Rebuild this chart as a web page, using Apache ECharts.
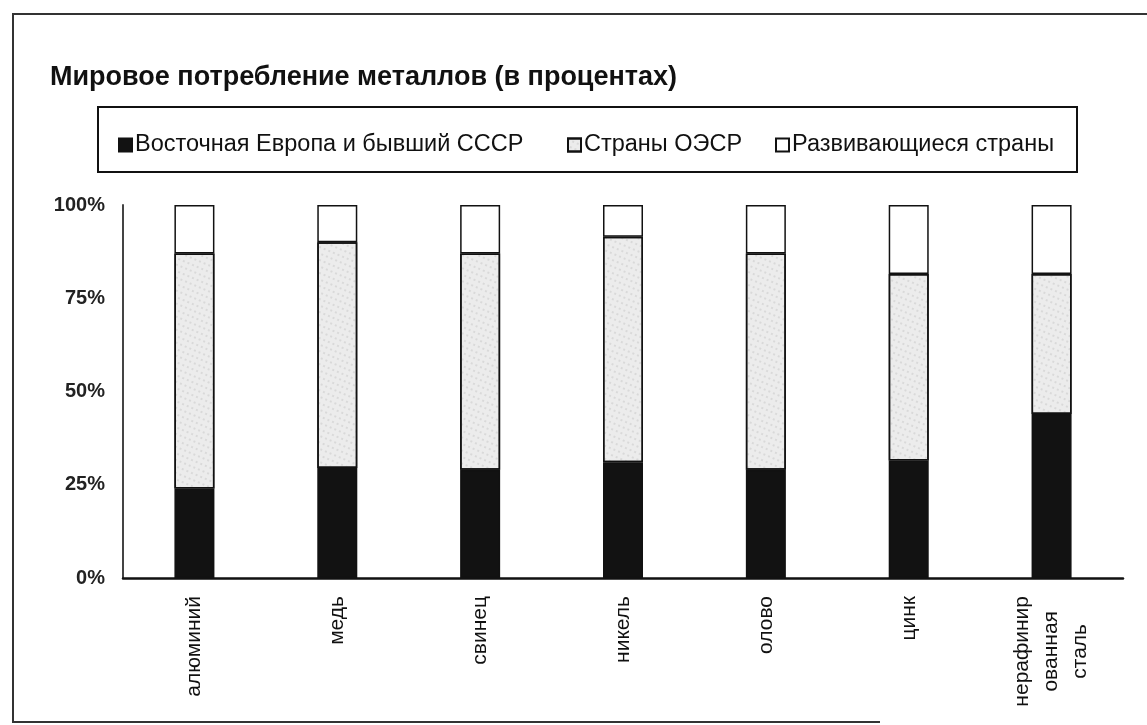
<!DOCTYPE html>
<html>
<head>
<meta charset="utf-8">
<title>Мировое потребление металлов</title>
<script src="https://cdn.jsdelivr.net/npm/echarts@6/dist/echarts.min.js"></script>
<style>
  html, body { margin: 0; padding: 0; background: #fff; }
  #chart { width: 1147px; height: 725px; }
</style>
</head>
<body>
<div id="chart"></div>
<script>
// данные (в процентах)
let categories = ['алюминий', 'медь', 'свинец', 'никель', 'олово', 'цинк', 'нерафинир\nованная\nсталь']
let seriesNames = ['Восточная Европа и бывший СССР', 'Страны ОЭСР', 'Развивающиеся страны']
let eastEurope = [24, 29.5, 29, 31, 29, 31.5, 44]
let oecd = [63, 60.5, 58, 60.5, 58, 50, 37.5]
let developing = [13, 10, 13, 8.5, 13, 18.5, 18.5]
let yTicks = [0, 25, 50, 75, 100]

let font = 'Liberation Sans, Arial, sans-serif'
let myChart = echarts.init(document.getElementById('chart'))

// отдельная легенда на каждый пункт, чтобы поставить их как в оригинале
let legendLeft = [118, 567, 775]
let legends = seriesNames.map((_name, _index) => ({
  data: [_name],
  left: legendLeft[_index],
  top: 133,
  padding: 0,
  itemWidth: 13,
  itemHeight: 13,
  itemGap: 6,
  icon: 'rect',
  textStyle: { fontFamily: font, fontSize: 23.5, color: '#111', padding: [0, 0, 0, -2] }
}))

let barStyle = {
  borderColor: '#111',
  borderWidth: 1.5
}

let option = {
  backgroundColor: '#fff',
  animation: false,
  title: {
    text: 'Мировое потребление металлов (в процентах)',
    left: 45,
    top: 59,
    textStyle: { fontFamily: font, fontSize: 27, fontWeight: 'bold', color: '#111' }
  },
  legend: legends,
  graphic: [
    // рамка вокруг всей диаграммы (правый край за кадром)
    { type: 'polyline', silent: true, shape: { points: [[1147, 14], [13, 14], [13, 722], [880, 722]] },
      style: { stroke: '#333', lineWidth: 2, fill: null } },
    // рамка легенды
    { type: 'rect', silent: true, shape: { x: 98, y: 107, width: 979, height: 65 },
      style: { stroke: '#111', lineWidth: 2, fill: null } }
  ],
  grid: {
    left: 123,
    right: 24,
    top: 205,
    bottom: 147
  },
  xAxis: {
    type: 'category',
    data: categories,
    axisLine: { lineStyle: { color: '#111', width: 2.5 } },
    axisTick: { show: false },
    axisLabel: {
      interval: 0,
      rotate: 90,
      margin: 18,
      fontFamily: font,
      fontSize: 21,
      color: '#111',
      formatter: (_v) => _v.indexOf('\n') < 0 ? _v : _v.split('\n').map(s => '{c|' + s + '}').join('\n'),
      rich: {
        c: { align: 'center', fontFamily: font, fontSize: 21, lineHeight: 29, color: '#111' }
      }
    }
  },
  yAxis: {
    type: 'value',
    min: yTicks[0],
    max: yTicks[yTicks.length - 1],
    interval: 25,
    splitLine: { show: false },
    axisTick: { show: false },
    axisLine: { show: true, lineStyle: { color: '#444', width: 2 } },
    axisLabel: {
      margin: 18,
      fontFamily: font,
      fontSize: 20,
      fontWeight: 'bold',
      color: '#222',
      formatter: '{value}%'
    }
  },
  series: [{
    name: seriesNames[0],
    type: 'bar',
    stack: 'all',
    barWidth: 40,
    data: eastEurope,
    itemStyle: Object.assign({ color: '#121212' }, barStyle)
  }, {
    name: seriesNames[1],
    type: 'bar',
    stack: 'all',
    barWidth: 40,
    data: oecd,
    itemStyle: Object.assign({
      color: '#ececec',
      decal: {
        symbol: 'circle',
        symbolSize: 0.7,
        dashArrayX: [2, 3],
        dashArrayY: [2, 4],
        rotation: 0.4,
        color: 'rgba(90,90,90,0.35)'
      }
    }, barStyle)
  }, {
    name: seriesNames[2],
    type: 'bar',
    stack: 'all',
    barWidth: 40,
    data: developing,
    itemStyle: Object.assign({ color: '#fff' }, barStyle)
  }]
}

myChart.setOption(option)
</script>
</body>
</html>
